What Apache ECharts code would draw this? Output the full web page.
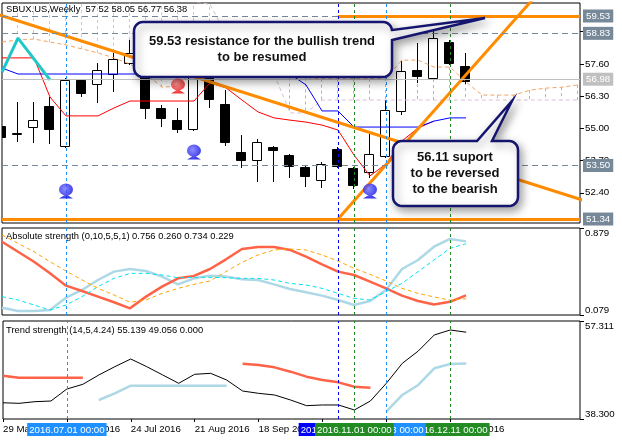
<!DOCTYPE html>
<html><head><meta charset="utf-8">
<script src="https://cdn.jsdelivr.net/npm/echarts@6/dist/echarts.min.js"></script>
<style>html,body{margin:0;padding:0;background:#fff}#c{width:622px;height:440px}</style>
</head><body><div id="c"></div>
<script>
// ---------------- data ----------------
const weekDates = ['29 May 2016','5 Jun 2016','12 Jun 2016','19 Jun 2016','26 Jun 2016','3 Jul 2016','10 Jul 2016','17 Jul 2016','24 Jul 2016','31 Jul 2016','7 Aug 2016','14 Aug 2016','21 Aug 2016','28 Aug 2016','4 Sep 2016','11 Sep 2016','18 Sep 2016','25 Sep 2016','2 Oct 2016','9 Oct 2016','16 Oct 2016','23 Oct 2016','30 Oct 2016','6 Nov 2016','13 Nov 2016','20 Nov 2016','27 Nov 2016','4 Dec 2016','11 Dec 2016','18 Dec 2016'];
const timeLabelIdx = [0,4,8,12,16,20,24,28];
const opens  = [55.09,54.80,55.05,55.90,54.29,56.95,56.79,57.19,57.63,57.19,55.82,55.33,54.97,57.25,55.98,54.04,53.72,54.25,53.92,53.44,52.91,54.17,53.40,53.24,53.88,55.70,57.35,57.03,58.48,57.52];
const highs  = [55.20,56.06,56.06,56.26,57.03,56.98,57.63,58.04,58.55,57.60,55.94,55.82,57.60,57.50,56.54,54.73,54.57,54.29,53.95,53.52,53.64,54.25,53.45,54.77,56.14,57.71,58.44,59.17,58.55,58.05];
const lows   = [54.55,54.45,54.41,54.37,54.22,56.26,56.02,56.46,57.55,55.37,55.05,54.81,54.90,55.82,54.29,53.40,52.83,52.83,52.99,52.63,52.59,53.40,52.55,52.99,53.80,55.54,56.83,56.95,57.55,56.77];
const closes = [54.65,54.83,55.33,54.97,56.95,56.42,57.35,57.80,58.04,55.82,55.41,54.97,57.30,56.18,54.45,53.72,54.45,54.12,53.48,53.08,53.56,53.48,52.71,53.96,55.74,57.31,57.11,58.64,57.63,56.92];

const tenkan = [57.84,57.84,57.84,56.26,55.50,55.50,55.50,55.82,56.10,56.10,56.10,56.10,56.10,56.83,56.63,56.14,55.66,55.42,55.33,55.25,55.13,54.93,53.92,53.08,53.56,54.49,55.01,55.29,null,null];
const kijun  = [57.43,57.19,57.19,57.19,57.19,57.19,57.19,57.19,57.19,57.19,57.19,57.19,57.19,57.19,57.19,57.19,57.19,57.19,57.19,56.75,55.70,55.70,55.05,55.05,55.05,55.05,55.05,55.29,55.42,55.42];
const senkouA = [58.48,58.56,58.60,58.48,58.36,58.20,58.04,57.84,57.59,57.20,56.66,56.70,57.40,57.60,57.70,57.70,57.60,57.50,57.05,57.05,57.00,57.00,57.00,57.00,57.03,57.75,57.75,57.47,57.47,56.87,56.34,56.34,56.34,56.54,56.62,56.66,56.75];
const senkouB = [60.6,60.6,60.6,60.6,60.6,60.6,60.6,60.6,60.6,60.4,60.3,60.2,60.1,60.0,58.8,58.0,57.4,57.2,55.62,55.62,56.14,56.14,56.14,56.14,56.14,56.14,56.14,56.14,56.14,56.14,56.14,56.14,56.14,56.14,56.14,56.14,56.14];
const zigzagIdx = [0,1,3];
const zigzagVal = [57.27,58.64,56.95];
const upSignalIdx = [4,12,23];
const upSignalPrice = [52.47,54.04,52.47];
const downSignalIdx = [11];
const downSignalPrice = [56.71];
const trendDownIdx = [-0.2,36.3];
const trendDownPrice = [59.58,52.10];
const trendUpIdx = [21,35];
const trendUpPrice = [51.34,61.53];
const resistLevel = 59.53, resistStartIdx = 21;
const levelValues = [58.83,56.98,53.50,51.34];
const priceTicks = [52.40,53.70,55.00,56.30,57.60,58.90];

const absBulls    = [0.146,0.116,0.116,0.125,0.238,0.309,0.401,0.478,0.502,0.484,0.432,0.361,0.416,0.441,0.432,0.407,0.401,0.361,0.318,0.288,0.257,0.217,0.171,0.208,0.309,0.502,0.585,0.707,0.778,0.756];
const absBears    = [0.753,0.661,0.569,0.462,0.349,0.300,0.248,0.196,0.140,0.248,0.340,0.416,0.438,0.502,0.591,0.686,0.704,0.704,0.677,0.615,0.545,0.478,0.447,0.386,0.324,0.257,0.208,0.175,0.200,0.260];
const absBullsSig = [0.248,0.217,0.171,0.125,0.171,0.248,0.340,0.416,0.462,0.462,0.447,0.422,0.425,0.425,0.422,0.416,0.416,0.401,0.370,0.355,0.324,0.278,0.232,0.217,0.294,0.370,0.478,0.585,0.692,0.734];
const absBearsSig = [0.815,0.738,0.661,0.569,0.484,0.401,0.324,0.263,0.196,0.217,0.278,0.324,0.361,0.392,0.478,0.563,0.631,0.677,0.686,0.677,0.631,0.576,0.508,0.453,0.392,0.324,0.278,0.245,0.215,0.229];

const trendMain = [41.45,41.34,41.66,41.79,44.12,45.03,46.84,48.45,49.94,48.45,46.84,45.22,46.97,47.16,45.87,43.73,43.28,42.96,41.99,40.89,41.02,41.02,40.05,41.79,45.22,49.10,51.49,54.60,55.57,55.139];
const trendUp = [null,null,null,null,null,null,41.99,43.28,44.77,44.77,44.77,44.77,44.77,44.77,44.77,null,null,null,null,null,null,null,null,null,39.72,42.96,44.90,48.13,48.97,49.056];
const trendDn = [46.71,46.30,46.30,46.30,46.30,46.30,null,null,null,null,null,null,null,null,null,49.04,48.78,48.32,47.48,46.51,45.87,45.41,44.57,44.38,null,null,null,null,null,null];

const vLineIdx   = [4,21,28,24,22];
const vLineText  = ['2016.07.01 00:00','2016.10.23 00:00','2016.12.11 00:00','2016.11.13 00:00','2016.11.01 00:00'];
const vLineColor = ['#1E90FF','#0000FF','#228B22','#1E90FF','#228B22'];

// ---------------- chart ----------------
const FONT = 'Liberation Sans';
const FS = 9.4;
const X_MAX = 36.125;
const chart = echarts.init(document.getElementById('c'), null, {width:622, height:440});

function candleItem(params, api) {
  const i = api.value(0), o = api.value(1), c = api.value(2), l = api.value(3), h = api.value(4);
  const pO = api.coord([i,o]), pC = api.coord([i,c]), pL = api.coord([i,l]), pH = api.coord([i,h]);
  const cx = Math.round(pO[0]);
  const yt = Math.round(Math.min(pO[1],pC[1])) + 0.5;
  let yb = Math.round(Math.max(pO[1],pC[1])) + 0.5;
  if (yb - yt < 1) yb = yt + 1;
  const bull = c >= o;
  return {type:'group', children:[
    {type:'line', shape:{x1:cx-0.5, y1:Math.round(pH[1]), x2:cx-0.5, y2:Math.round(pL[1])}, style:{stroke:'#000', lineWidth:1}},
    {type:'rect', shape:{x:cx-5.5, y:yt, width:9, height:yb-yt}, style:{fill: bull ? '#fff' : '#000', stroke:'#000', lineWidth:1}}
  ]};
}
function hatchItem(params, api) {
  const i = api.value(0), a = api.value(1), b = api.value(2);
  const p1 = api.coord([i,a]), p2 = api.coord([i,b]);
  const x = Math.round(p1[0]) - 0.5;
  return {type:'line', shape:{x1:x, y1:p1[1], x2:x, y2:p2[1]}, style:{stroke: a >= b ? '#F4A460' : '#D8BFD8', lineWidth:1, lineDash:[3,3]}};
}
function line(g, xs, ys, color, width, dashed, extra) {
  return Object.assign({
    type:'line', xAxisIndex:g, yAxisIndex:g, data: ys.map((v,k)=>[xs ? xs[k] : k, v]),
    symbol:'none', showSymbol:false, silent:true, clip:true, z:3,
    lineStyle:{color, width, type: dashed ? [4,3] : 'solid'}
  }, extra || {});
}
function vlines(withLabel) {
  return {silent:true, symbol:['none','none'], animation:false,
    data: vLineIdx.map((x,k)=>({xAxis:x, lineStyle:{color:vLineColor[k], type:[3,3], width:1},
      label: withLabel ? {show:true, position:'start', formatter:vLineText[k], backgroundColor:vLineColor[k], color:'#fff', padding:[2,2,1,2], fontSize:FS+0.3, fontFamily:FONT, distance:4} : {show:false}}))};
}
function lvlLabel(txt, bg) {
  return {show:true, position:'end', formatter:txt, backgroundColor:bg, color:'#fff', padding:[2,3,1,3], fontSize:FS+0.3, fontFamily:FONT, distance:3};
}
const grayDash = {color:'#778899', type:[6,4], width:1};

function callout(x0,y0,x1,y1,r,ptr){
  const pts=[];
  const arc=(cx,cy,a0,a1)=>{for(let k=0;k<=6;k++){const t=(a0+(a1-a0)*k/6)*Math.PI/180;pts.push([cx+r*Math.cos(t),cy+r*Math.sin(t)]);}};
  arc(x0+r,y0+r,180,270);
  if(ptr.side==='top'){pts.push([ptr.a,y0],ptr.tip,[ptr.b,y0]);}
  arc(x1-r,y0+r,270,360);
  if(ptr.side==='right'){pts.push([x1,ptr.a],ptr.tip,[x1,ptr.b]);}
  arc(x1-r,y1-r,0,90);
  arc(x0+r,y1-r,90,180);
  return pts;
}
const calloutStyle = {fill:'#fff', stroke:'#15156F', lineWidth:2.5, shadowBlur:8, shadowOffsetX:3, shadowOffsetY:4, shadowColor:'rgba(0,0,0,0.35)'};
const ctext = (t,x,y)=>({type:'text', x, y, z:101, silent:true, style:{text:t, fill:'#111', font:'bold 13px "Liberation Sans"', align:'center', verticalAlign:'middle'}});

const ball = (c1,c2)=>({type:'radial', x:0.4, y:0.35, r:0.7, colorStops:[{offset:0,color:c1},{offset:1,color:c2}]});
const ballPath = 'path://M50,6 A38,38 0 1,1 49.9,6 Z M12,100 L50,74 L88,100 Z';
const txt = {fontSize:FS, fontWeight:'normal', color:'#000', fontFamily:FONT};
const yCommon = {type:'value', position:'right', axisLine:{show:false, onZero:false}, splitLine:{show:false}};

const option = {
  animation:false,
  backgroundColor:'#fff',
  title:[
    {text:'SBUX.US,Weekly  57 52 58.05 56.77 56.38', left:6, top:5, padding:0, textStyle:txt},
    {text:'Absolute strength (0,10,5,5,1) 0.756 0.260 0.734 0.229', left:6, top:232, padding:0, textStyle:txt},
    {text:'Trend strength (14,5,4.24) 55.139 49.056 0.000', left:6, top:326, padding:0, textStyle:txt}
  ],
  grid:[
    {left:2, top:3, width:578, height:220, show:true, borderColor:'#000', borderWidth:1},
    {left:2, top:228, width:578, height:87, show:true, borderColor:'#000', borderWidth:1},
    {left:2, top:321, width:578, height:98, show:true, borderColor:'#000', borderWidth:1}
  ],
  xAxis:[0,1,2].map(g=>({
    type:'value', gridIndex:g, min:0, max:X_MAX, show: g===2,
    axisLine:{show:false, onZero:false}, splitLine:{show:false},
    axisTick:{show:true, customValues:timeLabelIdx, length:3, lineStyle:{color:'#000'}},
    axisLabel:{customValues:timeLabelIdx, formatter:v=>weekDates[v], align:'left', margin:5, fontSize:FS+0.3, color:'#000', fontFamily:FONT}
  })),
  yAxis:[
    Object.assign({gridIndex:0, min:51.18, max:60.054,
     axisTick:{show:true, customValues:priceTicks, length:4, lineStyle:{color:'#000'}},
     axisLabel:{customValues:priceTicks, formatter:v=>v.toFixed(2), margin:5, fontSize:FS+0.3, color:'#000', fontFamily:FONT}}, yCommon),
    Object.assign({gridIndex:1, min:0.079, max:0.879,
     axisTick:{show:true, customValues:[0.079,0.879], length:4, lineStyle:{color:'#000'}},
     axisLabel:{customValues:[0.079,0.879], formatter:v=>v.toFixed(3), margin:5, fontSize:FS+0.3, color:'#000', fontFamily:FONT, verticalAlignMaxLabel:'top', verticalAlignMinLabel:'bottom'}}, yCommon),
    Object.assign({gridIndex:2, min:38.3, max:57.311,
     axisTick:{show:true, customValues:[38.3,57.311], length:4, lineStyle:{color:'#000'}},
     axisLabel:{customValues:[38.3,57.311], formatter:v=>v.toFixed(3), margin:5, fontSize:FS+0.3, color:'#000', fontFamily:FONT, verticalAlignMaxLabel:'top', verticalAlignMinLabel:'bottom'}}, yCommon)
  ],
  series:[
    {type:'custom', xAxisIndex:0, yAxisIndex:0, renderItem:hatchItem, clip:true, silent:true, z:1,
     data: senkouA.map((a,i)=>[i,a,senkouB[i]]), encode:{x:0, y:[1,2]}},
    {type:'custom', xAxisIndex:0, yAxisIndex:0, renderItem:candleItem, clip:true, silent:true, z:2,
     data: opens.map((o,i)=>[i,o,closes[i],lows[i],highs[i]]), encode:{x:0, y:[1,2,3,4]},
     markLine:{silent:true, symbol:['none','none'], animation:false, data:[
       {yAxis:resistLevel, lineStyle:grayDash, label:{show:false}},
       {yAxis:levelValues[0], lineStyle:grayDash, label:lvlLabel('58.83','#778899')},
       {yAxis:levelValues[1], lineStyle:{color:'#C0C0C0', type:'solid', width:1}, label:lvlLabel('56.98','#C0C0C0')},
       {yAxis:levelValues[2], lineStyle:grayDash, label:lvlLabel('53.50','#778899')},
       {yAxis:levelValues[3], lineStyle:{color:'#FF8C00', type:'solid', width:3}, label:lvlLabel('51.34','#778899')},
       [{coord:[resistStartIdx,resistLevel], lineStyle:{color:'#FF8C00', type:'solid', width:3}, label:lvlLabel('59.53','#778899')},{coord:[X_MAX,resistLevel]}]
     ]}},
    line(0, null, senkouA, '#F4A460', 1, true),
    line(0, null, senkouB, '#D8BFD8', 1, true),
    line(0, null, tenkan, '#FF0000', 1, false),
    line(0, null, kijun, '#0000FF', 1, false, {markLine: vlines(false)}),
    line(0, zigzagIdx, zigzagVal, '#1FC8C8', 3, false),
    line(0, trendDownIdx, trendDownPrice, '#FF8C00', 3, false, {z:4}),
    line(0, trendUpIdx, trendUpPrice, '#FF8C00', 3, false, {z:4}),
    {type:'scatter', xAxisIndex:0, yAxisIndex:0, silent:true, z:6, symbol:ballPath, symbolSize:[14,15],
     itemStyle:{color:ball('#6f6fff','#0000e0')}, data: upSignalIdx.map((x,k)=>[x,upSignalPrice[k]])},
    {type:'scatter', xAxisIndex:0, yAxisIndex:0, silent:true, z:6, symbol:ballPath, symbolSize:[14,15],
     itemStyle:{color:ball('#ff8080','#e80000')}, data: downSignalIdx.map((x,k)=>[x,downSignalPrice[k]])},

    line(1, null, absBulls, '#ADD8E6', 2.5, false, {markLine: vlines(false)}),
    line(1, null, absBears, '#FF6347', 2.5, false),
    line(1, null, absBullsSig, '#00E5EE', 1, true),
    line(1, null, absBearsSig, '#FFA500', 1, true),

    line(2, null, trendDn, '#FF6347', 2.5, false),
    line(2, null, trendUp, '#ADD8E6', 2.5, false),
    line(2, null, trendMain, '#000000', 1, false, {markLine: vlines(true)})
  ],
  graphic:[
    {type:'polygon', z:100, silent:true, shape:{points: callout(134,22,392,77,9,{side:'right', a:30, b:40, tip:[485,18]})}, style:calloutStyle},
    ctext('59.53 resistance for the bullish trend', 262, 41),
    ctext('to be resumed', 262, 57),
    {type:'polygon', z:100, silent:true, shape:{points: callout(393,141,518,206,9,{side:'top', a:477, b:492, tip:[512,101]})}, style:calloutStyle},
    ctext('56.11 suport', 455, 157),
    ctext('to be reversed', 455, 173),
    ctext('to the bearish', 455, 189)
  ]
};
chart.setOption(option);
</script>
</body></html>
